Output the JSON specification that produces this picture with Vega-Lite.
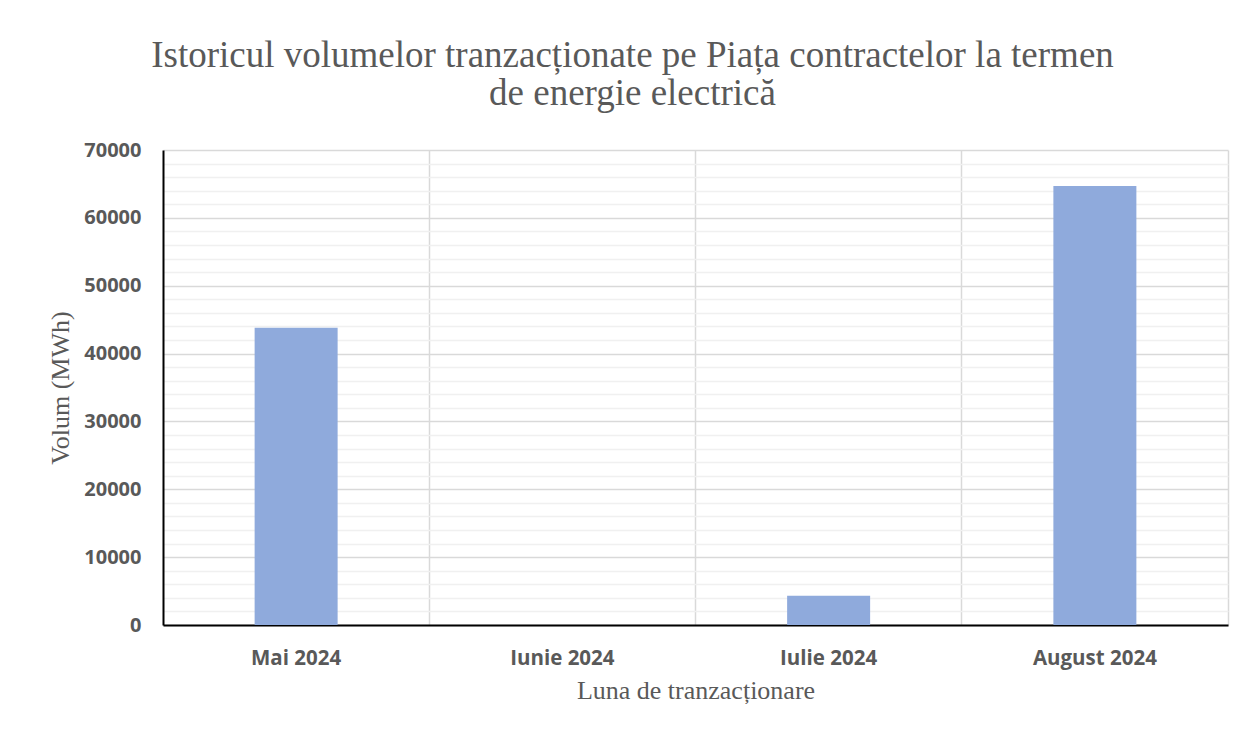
{
  "$schema": "https://vega.github.io/schema/vega-lite/v6.json",
  "width": 1065,
  "height": 475,
  "autosize": "none",
  "padding": {"left": 163, "top": 150, "right": 18, "bottom": 110},
  "background": "white",
  "config": {"view": {"stroke": null}},
  "title": {
    "text": ["Istoricul volumelor tranzacționate pe Piața contractelor la termen", "de energie electrică"],
    "font": "Liberation Serif",
    "fontSize": 37,
    "fontWeight": "normal",
    "color": "#595959",
    "anchor": "middle",
    "frame": "group",
    "dx": -63,
    "offset": 27,
    "lineHeight": 38
  },
  "data": {
    "values": [
      {"luna": "Mai 2024", "volum": 43800},
      {"luna": "Iunie 2024", "volum": 0},
      {"luna": "Iulie 2024", "volum": 4300},
      {"luna": "August 2024", "volum": 64700}
    ]
  },
  "mark": {"type": "bar", "width": 83, "color": "#8faadc"},
  "encoding": {
    "x": {
      "field": "luna",
      "type": "nominal",
      "sort": null,
      "scale": {"paddingInner": 0, "paddingOuter": 0},
      "axis": {
        "title": "Luna de tranzacționare",
        "titleFont": "Liberation Serif",
        "titleFontSize": 26,
        "titleFontWeight": "normal",
        "titleColor": "#595959",
        "titlePadding": 9,
        "labelFont": "Open Sans",
        "labelFontSize": 20.5,
        "labelFontWeight": "bold",
        "labelColor": "#595959",
        "labelAngle": 0,
        "labelPadding": 23,
        "ticks": false,
        "tickSize": 0,
        "domainColor": "#000000",
        "domainWidth": 2,
        "grid": true,
        "gridColor": "#d9d9d9",
        "gridWidth": 1.5,
        "bandPosition": 1
      }
    },
    "y": {
      "field": "volum",
      "type": "quantitative",
      "scale": {"domain": [0, 70000], "nice": false},
      "axis": {
        "title": "Volum (MWh)",
        "titleFont": "Liberation Serif",
        "titleFontSize": 26,
        "titleFontWeight": "normal",
        "titleColor": "#595959",
        "titlePadding": 10,
        "values": [0, 2000, 4000, 6000, 8000, 10000, 12000, 14000, 16000, 18000, 20000, 22000, 24000, 26000, 28000, 30000, 32000, 34000, 36000, 38000, 40000, 42000, 44000, 46000, 48000, 50000, 52000, 54000, 56000, 58000, 60000, 62000, 64000, 66000, 68000, 70000],
        "format": "d",
        "labelExpr": "datum.value % 10000 === 0 ? datum.label : ''",
        "labelFont": "Open Sans",
        "labelFontSize": 20,
        "labelFontWeight": "bold",
        "labelColor": "#595959",
        "labelPadding": 22,
        "ticks": false,
        "tickSize": 0,
        "domainColor": "#000000",
        "domainWidth": 2,
        "grid": true,
        "gridColor": {"condition": {"test": "datum.value % 10000 === 0", "value": "#d9d9d9"}, "value": "#f0f0f0"},
        "gridWidth": 1.5
      }
    }
  }
}
